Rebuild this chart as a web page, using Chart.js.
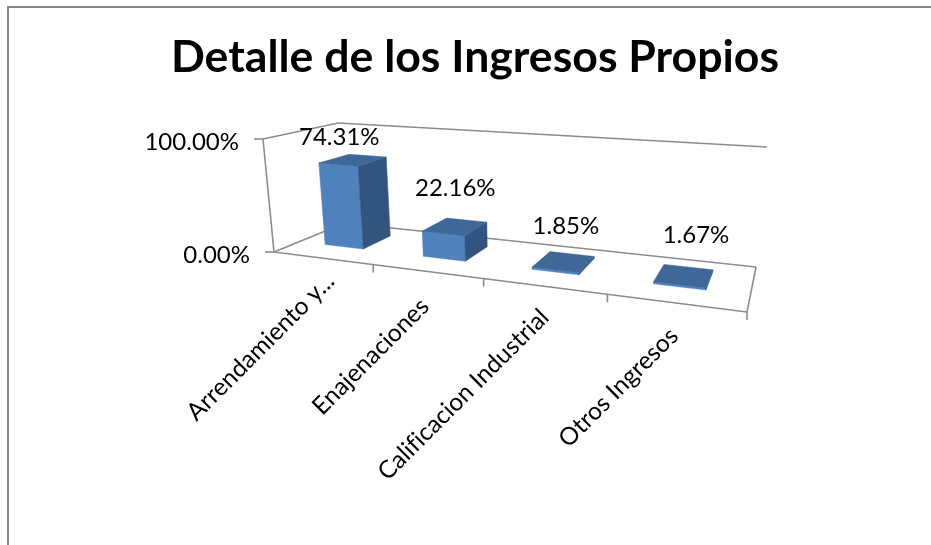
<!DOCTYPE html>
<html>
<head>
<meta charset="utf-8">
<style>
html,body{margin:0;padding:0;background:#fff;overflow:hidden;width:931px;height:545px}
#frame{position:absolute;left:7px;top:6px;width:940px;height:560px;border-left:2px solid #868686;border-top:2px solid #868686}
#c{position:absolute;left:0;top:0}
</style>
<script src="https://cdn.jsdelivr.net/npm/chart.js@4/dist/chart.umd.min.js"></script>
</head>
<body>
<div id="frame"></div>
<canvas id="c" width="931" height="545"></canvas>
<script>
const chartTitle = 'Detalle de los Ingresos Propios';
const categories = ['Arrendamiento y...', 'Enajenaciones', 'Calificacion Industrial', 'Otros Ingresos'];
const shares = [74.31, 22.16, 1.85, 1.67];
const axisMin = 0;
const axisMax = 100;

const FONT = 'Lato, Carlito, sans-serif';
const LABEL_SIZE = 24;
const TICK_LABEL_SIZE = 24.5;
const AXIS_COLOR = '#8c8c8c';
const FRONT = '#4f81bd', SIDE = '#32557f', TOP = '#3f6797';

// Perspective box of the plot: floor corners, their wall heights, and the vanishing point of verticals
const floorQuad = [[274,252],[747,312],[756,267],[345,223]];
const wallHeights = [113,128,120,100];
const VANISH = [523,2809];
const DEPTH_NEAR = 0.33, DEPTH_FAR = 0.76, BAR_SHIFT = -0.006;
const dataLabelNudge = [[-14,-23],[0,-38],[2,-35],[12,-40]];
const tickLabelNudge = [[8,19],[-2,31],[1,27],[-1,29]];

function homography(q){
  const [[x0,y0],[x1,y1],[x2,y2],[x3,y3]] = q;
  const dx1=x1-x2, dx2=x3-x2, sx=x0-x1+x2-x3;
  const dy1=y1-y2, dy2=y3-y2, sy=y0-y1+y2-y3;
  const den=dx1*dy2-dx2*dy1;
  const g=(sx*dy2-dx2*sy)/den, h=(dx1*sy-sx*dy1)/den;
  const a=x1-x0+g*x1, b=x3-x0+h*x3, c=x0;
  const d=y1-y0+g*y1, e=y3-y0+h*y3, f=y0;
  return (u,v)=>{const w=g*u+h*v+1;return [(a*u+b*v+c)/w,(d*u+e*v+f)/w];};
}
const floorH = homography(floorQuad);
function project(u,depth,w){
  const a=floorH(u,depth);
  const [h0,h1,h2,h3]=wallHeights;
  const h=(h0*(1-u)+h1*u)*(1-depth)+(h3*(1-u)+h2*u)*depth;
  const k=h*w/(VANISH[1]-a[1]);
  return [a[0]+(a[0]-VANISH[0])*k, a[1]-h*w];
}
function line(ctx,a,b){ctx.beginPath();ctx.moveTo(a[0],a[1]);ctx.lineTo(b[0],b[1]);ctx.stroke();}
function poly(ctx,pts,color){
  ctx.beginPath();pts.forEach((p,i)=>i?ctx.lineTo(p[0],p[1]):ctx.moveTo(p[0],p[1]));ctx.closePath();
  ctx.fillStyle=color;ctx.fill();ctx.strokeStyle=color;ctx.lineWidth=0.5;ctx.stroke();
}

const perspectivePlugin = {
  id:'perspective',
  beforeDatasetsDraw(chart){
    const {ctx,scales:{x,y},chartArea:A}=chart;
    ctx.save();
    ctx.strokeStyle=AXIS_COLOR;ctx.lineWidth=1.6;
    ctx.letterSpacing='0.01px';
    line(ctx,project(0,0,0),project(1,0,0));
    line(ctx,project(1,0,0),project(1,1,0));
    line(ctx,project(1,1,0),project(0,1,0));
    line(ctx,project(0,1,0),project(0,0,0));
    line(ctx,project(0,0,0),project(0,0,1));
    line(ctx,project(0,0,1),project(0,1,1));
    line(ctx,project(0,1,1),project(1,1,1));
    // value axis ticks and labels
    ctx.font=LABEL_SIZE+'px '+FONT;ctx.fillStyle='#000';ctx.textAlign='right';ctx.textBaseline='middle';
    y.ticks.forEach(t=>{
      const w=(y.bottom-y.getPixelForValue(t.value))/(y.bottom-y.top);
      const p=project(0,0,w);
      line(ctx,[p[0]-9,p[1]],p);
      ctx.fillText(t.label,p[0]-24,p[1]+3);
    });
    // category boundaries
    const n=categories.length;
    for(let i=1;i<=n;i++){
      const p=project(i/n,0,0);
      line(ctx,p,[p[0],p[1]+8]);
    }
    // category labels
    ctx.font=TICK_LABEL_SIZE+'px '+FONT;
    x.ticks.forEach((t,i)=>{
      const u=(x.getPixelForTick(i)-A.left)/A.width;
      const p=project(u,0,0);
      ctx.save();
      ctx.translate(p[0]+tickLabelNudge[i][0],p[1]+tickLabelNudge[i][1]);
      ctx.rotate(-Math.PI/4);
      ctx.textAlign='right';ctx.textBaseline='middle';ctx.fillStyle='#000';
      ctx.fillText(t.label,0,0);
      ctx.restore();
    });
    ctx.restore();
  },
  beforeDatasetDraw(){return false;},
  afterDatasetsDraw(chart){
    const {ctx,chartArea:A,scales:{y}}=chart;
    const meta=chart.getDatasetMeta(0);
    ctx.save();
    meta.data.forEach((el,i)=>{
      const p=el.getProps(['x','y','base','width'],true);
      const u0=(p.x-p.width/2-A.left)/A.width+BAR_SHIFT, u1=(p.x+p.width/2-A.left)/A.width+BAR_SHIFT;
      const w=(p.base-p.y)/(y.bottom-y.top);
      const D0=DEPTH_NEAR, D1=DEPTH_FAR;
      const fbl=project(u0,D0,0), fbr=project(u1,D0,0), ftl=project(u0,D0,w), ftr=project(u1,D0,w);
      const bbr=project(u1,D1,0), btr=project(u1,D1,w), btl=project(u0,D1,w);
      poly(ctx,[fbl,fbr,ftr,ftl],FRONT);
      poly(ctx,[fbr,bbr,btr,ftr],SIDE);
      poly(ctx,[ftl,ftr,btr,btl],TOP);
    });
    meta.data.forEach((el,i)=>{
      const p=el.getProps(['x','y','base','width'],true);
      const u=(p.x-A.left)/A.width+BAR_SHIFT, w=(p.base-p.y)/(y.bottom-y.top);
      const c=project(u,(DEPTH_NEAR+DEPTH_FAR)/2,w);
      ctx.font=LABEL_SIZE+'px '+FONT;ctx.fillStyle='#000';ctx.textAlign='center';ctx.textBaseline='middle';
      ctx.fillText(shares[i].toFixed(2)+'%',c[0]+dataLabelNudge[i][0],c[1]+dataLabelNudge[i][1]);
    });
    ctx.restore();
  }
};

new Chart(document.getElementById('c'),{
  type:'bar',
  data:{labels:categories,datasets:[{data:shares,backgroundColor:FRONT,categoryPercentage:1,barPercentage:0.4}]},
  plugins:[perspectivePlugin],
  options:{
    responsive:false,animation:false,devicePixelRatio:1,
    layout:{padding:{left:19,top:27,right:0,bottom:10}},
    plugins:{
      legend:{display:false},tooltip:{enabled:false},
      title:{display:true,text:chartTitle,color:'#000',font:{family:FONT,size:44.6,weight:'bold'},padding:{top:4,bottom:10}}
    },
    scales:{
      x:{display:false,ticks:{autoSkip:false}},
      y:{display:false,min:axisMin,max:axisMax,ticks:{stepSize:100,callback:v=>v.toFixed(2)+'%'}}
    }
  }
});
</script>
</body>
</html>
